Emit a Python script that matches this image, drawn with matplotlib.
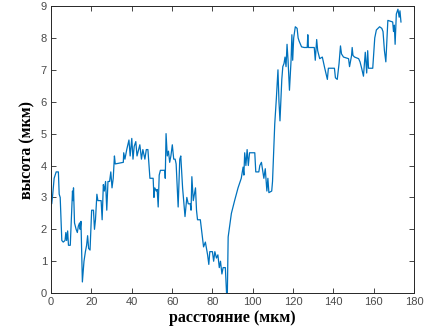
import matplotlib
matplotlib.use("Agg")
import matplotlib.pyplot as plt

distance = [0, 0.3, 0.8, 1.5, 2.5, 3.6, 4.0, 4.5, 5.3, 6.0, 6.9, 7.3, 7.7, 8.2, 8.6, 9.5,
            10.2, 10.6, 10.9, 11.1, 11.6, 12.4, 13.0, 13.5, 14.1, 14.4, 14.8, 15.5, 16.3,
            17.0, 17.6, 18.1, 18.6, 19.3, 20.1, 21.0, 21.5, 22.0, 22.7, 23.2, 24.8, 25.3,
            25.9, 26.4, 27.0, 27.6, 28.2, 29.0, 29.6, 30.2, 30.8, 31.4, 31.8, 35.8, 36.0,
            36.6, 37.5, 38.6, 39.2, 40.0, 40.6, 41.2, 42.0, 42.6, 44.0, 44.8, 45.5, 46.5,
            47.2, 48.0, 49.0, 50.6, 51.0, 51.4, 52.2, 52.6, 53.1, 53.6, 54.2, 56.4, 56.6,
            57.0, 57.6, 58.2, 58.8, 59.4, 60.1, 60.8, 61.5, 62.0, 63.0, 63.8, 64.3, 65.2,
            66.4, 67.3, 68.0, 69.0, 69.4, 69.8, 70.5, 71.6, 72.1, 72.6, 74.0, 75.0, 75.6,
            76.5, 77.6, 78.2, 78.7, 80.0, 80.6, 81.2, 82.0, 82.7, 83.4, 84.0, 84.7, 85.3,
            86.4, 87.0, 87.4, 87.8, 89.4, 91.0, 92.7, 94.3, 95.2, 95.6, 96.0, 96.6, 97.2,
            97.8, 98.4, 101.0, 101.5, 103.0, 103.5, 104.3, 104.8, 105.5, 106.2, 107.0,
            107.5, 108.0, 109.4, 109.8, 110.9, 111.7, 112.5, 113.0, 113.5, 114.4, 114.9,
            115.5, 116.0, 116.5, 117.0, 117.5, 118.2, 119.0, 119.4, 119.8, 120.3, 121.1,
            122.0, 122.5, 123.0, 124.2, 125.5, 127.0, 127.3, 127.6, 130.5, 131.0, 131.7,
            132.2, 133.2, 134.5, 135.7, 137.0, 137.5, 140.5, 141.0, 141.9, 142.8, 143.5,
            144.0, 145.0, 147.5, 148.0, 149.0, 149.3, 149.7, 150.5, 152.5, 153.2, 154.0,
            154.9, 155.8, 156.5, 157.0, 157.4, 159.5, 160.5, 161.3, 162.9, 164.0, 164.6,
            165.3, 166.0, 167.0, 169.4, 169.8, 170.2, 170.6, 171.2, 172.0, 172.6, 173.0,
            173.5]
height = [3.0, 2.8, 3.1, 3.6, 3.8, 3.8, 3.1, 3.0, 1.65, 1.6, 1.65, 1.9, 1.65, 1.95, 1.5, 1.5,
          2.6, 3.2, 2.9, 3.3, 2.2, 2.0, 1.9, 2.1, 2.2, 2.0, 2.25, 0.35, 1.0,
          1.3, 1.5, 1.8, 1.4, 1.35, 2.6, 2.6, 2.0, 2.3, 3.1, 2.9, 2.9, 2.3,
          3.4, 3.2, 3.5, 2.6, 3.5, 3.5, 3.8, 3.3, 3.6, 4.3, 4.05, 4.1, 4.4,
          4.2, 4.5, 4.8, 4.3, 4.85, 4.2, 4.6, 4.75, 4.3, 4.65, 4.2, 4.5, 4.2,
          4.5, 4.5, 3.6, 3.6, 3.0, 3.3, 3.2, 3.25, 2.7, 3.7, 3.85, 3.85, 3.6,
          5.0, 4.3, 4.45, 4.1, 4.3, 4.65, 4.2, 4.2, 4.05, 2.7, 4.2, 4.3, 3.3,
          2.4, 3.0, 2.8, 2.8, 2.6, 3.65, 2.9, 3.3, 2.6, 2.3, 2.3, 1.75, 1.45,
          1.6, 1.2, 0.9, 1.3, 1.3, 1.0, 1.3, 1.1, 1.2, 0.8, 1.0, 0.6, 0.8,
          0.8, 0.0, 0.0, 1.76, 2.5, 2.9, 3.3, 3.6, 3.95, 3.7, 4.4, 4.0, 4.5,
          4.0, 4.4, 4.4, 3.8, 3.8, 4.0, 4.1, 3.9, 3.6, 3.9, 3.2,
          3.6, 3.15, 3.2, 3.5, 5.3, 6.1, 7.0, 6.0, 5.4, 6.7, 7.1,
          7.2, 7.4, 7.1, 7.8, 7.3, 6.36, 7.3, 8.1, 7.3, 8.0, 8.35,
          8.3, 8.0, 7.9, 7.72, 7.7, 7.7, 8.1, 7.7, 7.7, 7.3, 7.95,
          7.6, 7.35, 7.4, 7.05, 6.7, 7.05, 7.05, 6.75, 6.7, 7.2, 7.75,
          7.5, 7.4, 7.35, 7.1, 7.45, 7.7, 7.45, 7.4, 7.35, 7.25, 7.05,
          6.8, 7.55, 6.9, 7.6, 7.05, 7.05, 8.0, 8.25, 8.35, 8.3, 8.2,
          7.6, 7.25, 8.55, 8.5, 8.2, 8.4, 7.8, 8.75, 8.9, 8.65, 8.85,
          8.5]

x_ticks = [0, 20, 40, 60, 80, 100, 120, 140, 160, 180]
y_ticks = [0, 1, 2, 3, 4, 5, 6, 7, 8, 9]
x_label = "расстояние (мкм)"
y_label = "высота (мкм)"

fig = plt.figure(figsize=(4.26, 3.35), dpi=100)
ax = fig.add_axes([0.12, 0.125, 0.852, 0.857])
ax.plot(distance, height, color="#0072BD", lw=0.9)
ax.set_xlim(0, 180)
ax.set_ylim(0, 9)
ax.set_xticks(x_ticks)
ax.set_yticks(y_ticks)
ax.tick_params(direction="in", length=3.5, width=0.6, top=True, right=True,
               labelsize=8, colors="#262626", labelcolor="#4a4a4a", pad=3)
for s in ax.spines.values():
    s.set_linewidth(0.7)
    s.set_color("#262626")
for lbl in ax.get_xticklabels() + ax.get_yticklabels():
    lbl.set_family("Liberation Sans")
ax.set_xlabel(x_label, family="Liberation Serif", fontweight="bold", fontsize=11.5, labelpad=2)
ax.set_ylabel(y_label, family="Liberation Serif", fontweight="bold", fontsize=11.5, labelpad=4)
fig.savefig("out.png", dpi=100)
